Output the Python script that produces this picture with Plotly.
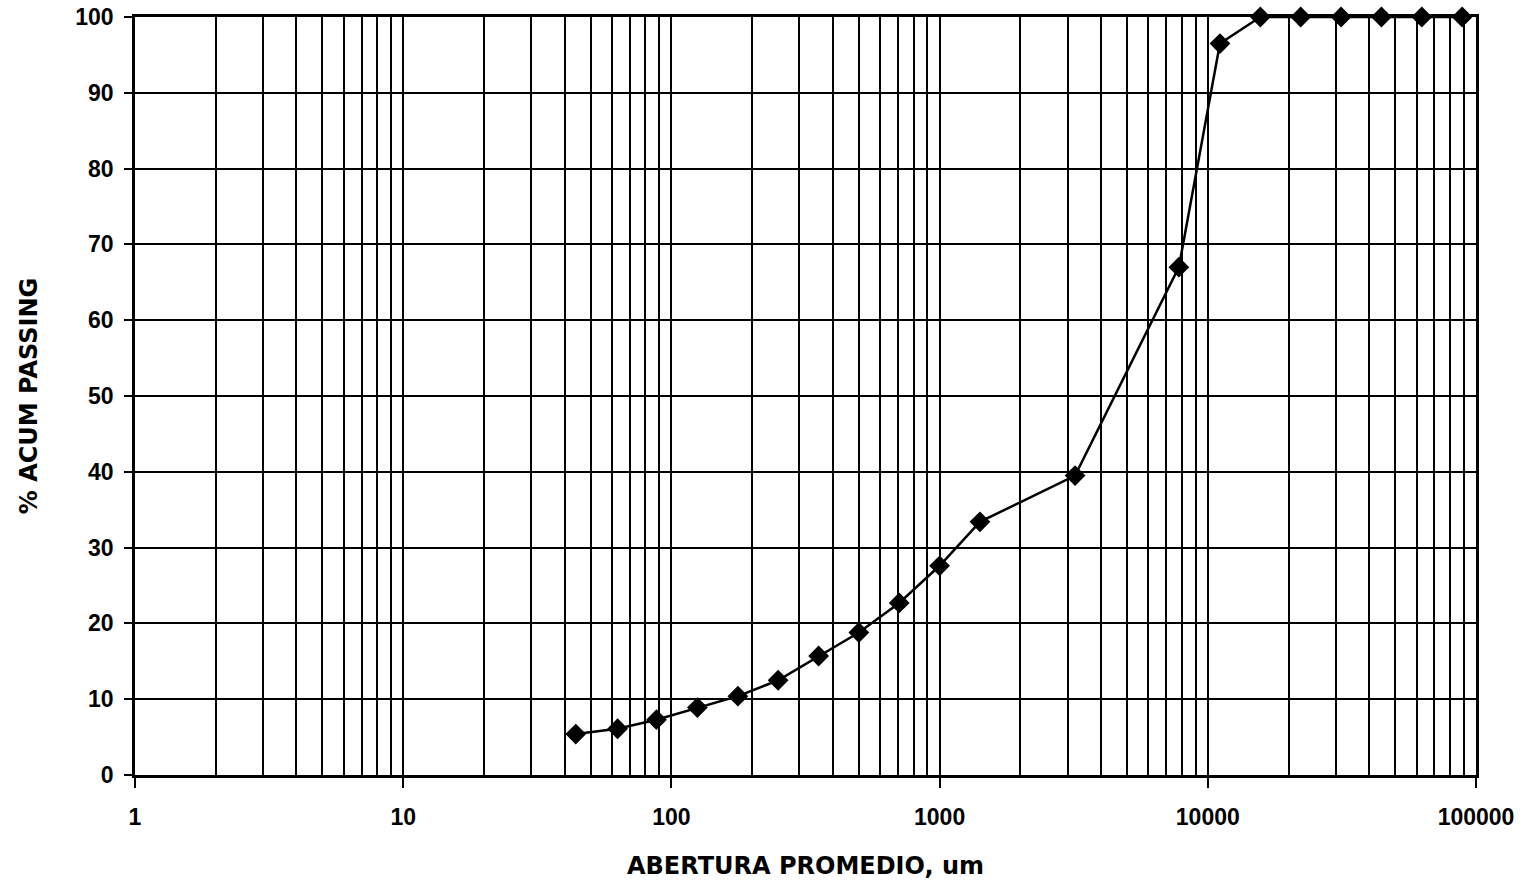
import plotly.graph_objects as go

abertura_um = [44, 63, 88, 125, 177, 250, 354, 500, 707, 1000, 1414, 3200,
               7800, 11100, 15700, 22200, 31400, 44400, 62800, 88800]
acum_passing = [5.4, 6.1, 7.3, 8.9, 10.4, 12.5, 15.7, 18.8, 22.7, 27.6, 33.4, 39.5,
                67.0, 96.5, 100, 100, 100, 100, 100, 100]

x_tickvals = [1, 10, 100, 1000, 10000, 100000]
x_ticktext = ["1", "10", "100", "1000", "10000", "100000"]
y_tickvals = list(range(0, 101, 10))

font_family = "Liberation Sans, Arial, sans-serif"
title_family = "DejaVu Sans, Liberation Sans, sans-serif"

fig = go.Figure()
fig.add_trace(go.Scatter(
    x=abertura_um, y=acum_passing, mode="lines+markers",
    line=dict(color="black", width=2.5),
    marker=dict(symbol="diamond", size=16, color="black"),
    cliponaxis=False, showlegend=False,
))

fig.update_layout(
    width=1534, height=891,
    margin=dict(l=135, r=58, t=17, b=116, autoexpand=False),
    paper_bgcolor="white", plot_bgcolor="white",
    font=dict(family=font_family, color="black", size=23, weight="bold"),
    xaxis=dict(
        type="log", range=[0, 5], automargin=False,
        tickvals=x_tickvals, ticktext=x_ticktext,
        showgrid=True, gridcolor="black", gridwidth=2,
        minor=dict(dtick="D1", showgrid=True, gridcolor="black", gridwidth=2, ticks=""),
        ticks="outside", ticklen=10, tickwidth=2, tickcolor="black",
        ticklabelstandoff=10, ticklabeloverflow="allow",
        showline=True, linecolor="black", linewidth=2.5, mirror=True,
        tickfont=dict(size=23, weight="bold", family=font_family),
        title=dict(text="ABERTURA PROMEDIO, um", standoff=28,
                   font=dict(size=24, weight="bold", family=title_family)),
        zeroline=False,
    ),
    yaxis=dict(
        range=[0, 100], tickvals=y_tickvals, automargin=False,
        showgrid=True, gridcolor="black", gridwidth=2,
        ticks="outside", ticklen=8, tickwidth=2, tickcolor="black",
        ticklabelstandoff=6, ticklabeloverflow="allow",
        showline=True, linecolor="black", linewidth=2.5, mirror=True,
        tickfont=dict(size=23, weight="bold", family=font_family),
        title=dict(text="% ACUM PASSING", standoff=31,
                   font=dict(size=24, weight="bold", family=title_family)),
        zeroline=False,
    ),
)

fig.write_html("out.html", config={"displayModeBar": False},
               post_script="document.body.style.margin='0';")
